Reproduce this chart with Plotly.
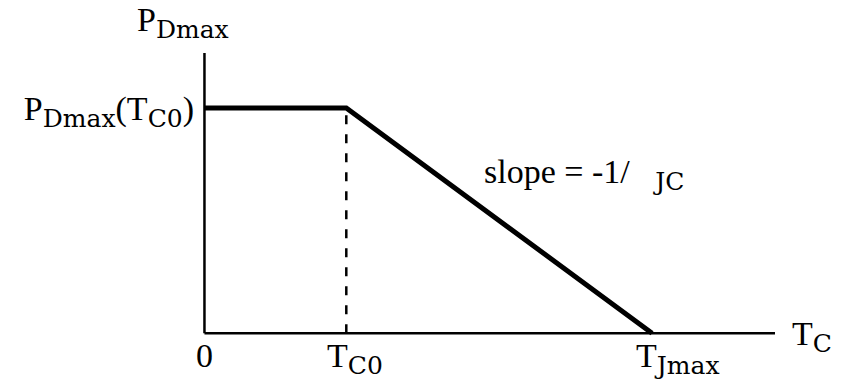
import plotly.graph_objects as go

# Derating curve: maximum power dissipation vs. case temperature
T_C0 = 45.0          # case temperature where derating starts
T_JMAX = 142.0       # maximum junction temperature
P_DMAX_TC0 = 100.0   # rated dissipation up to T_C0
T_AXIS_END = 181.0   # extent of the drawn temperature axis
P_AXIS_END = 124.4   # extent of the drawn power axis

curve_t = [0.0, T_C0, T_JMAX]
curve_p = [P_DMAX_TC0, P_DMAX_TC0, 0.0]


def sub(s):
    """Subscript set in a wider serif face."""
    return ("<sub><span style='font-family:DejaVu Serif;font-size:25px'>"
            + s + "</span></sub>")


# Temperature marks under the axis: value, text, horizontal anchor
x_label_vals = [0.0, T_C0, T_JMAX]
x_label_text = ["0", "T" + sub("C0"), "T" + sub("Jmax")]
x_label_anchor = ["center", "left", "left"]
x_label_shift = [0, -21, -18]

y_tick_vals = [P_DMAX_TC0]
y_tick_text = ["P" + sub("Dmax") + "(T" + sub("C0") + ")"]

FONT = dict(family="Liberation Serif", size=34, color="black")

# Figure frame (pixels) and a small data pad so thick lines are not clipped
W, H = 841, 383
ORIGIN_X, ORIGIN_Y = 204, 333      # where (0, 0) lands
END_X, END_Y = 775, 53             # where the axis ends land
PAD = 3.0
kx = (END_X - ORIGIN_X) / T_AXIS_END
ky = (ORIGIN_Y - END_Y) / P_AXIS_END

fig = go.Figure()

# Axes drawn as plain lines from the origin
fig.add_trace(go.Scatter(x=[0, 0], y=[0, P_AXIS_END], mode="lines",
                         line=dict(color="black", width=2.5), hoverinfo="skip"))
fig.add_trace(go.Scatter(x=[0, T_AXIS_END], y=[0, 0], mode="lines",
                         line=dict(color="black", width=2.5), hoverinfo="skip"))

# Dashed marker at T_C0
fig.add_trace(go.Scatter(x=[T_C0, T_C0], y=[0, P_DMAX_TC0], mode="lines",
                         line=dict(color="black", width=2.5, dash="9px,10px"),
                         hoverinfo="skip"))

# Derating curve
fig.add_trace(go.Scatter(x=curve_t, y=curve_p, mode="lines",
                         line=dict(color="black", width=5), hoverinfo="skip"))

annotations = [
    dict(x=0, y=P_AXIS_END, xref="x", yref="y", text="P" + sub("Dmax"),
         showarrow=False, xanchor="center", yanchor="bottom",
         xshift=-21, yshift=7, font=FONT),
    dict(x=T_AXIS_END, y=0, xref="x", yref="y", text="T" + sub("C"),
         showarrow=False, xanchor="left", yanchor="middle",
         xshift=15, yshift=-3, font=FONT),
    dict(x=88, y=70.5, xref="x", yref="y",
         text="slope = -1/&nbsp;&nbsp;&nbsp;" + sub("JC"),
         showarrow=False, xanchor="left", yanchor="middle", font=FONT),
]
for xv, txt, anc, sh in zip(x_label_vals, x_label_text, x_label_anchor,
                            x_label_shift):
    annotations.append(dict(x=xv, y=0, xref="x", yref="y", text=txt,
                            showarrow=False, xanchor=anc, yanchor="top",
                            xshift=sh, yshift=-2, font=FONT))

fig.update_layout(
    width=W, height=H,
    margin=dict(l=ORIGIN_X - PAD * kx, r=W - END_X,
                t=END_Y, b=H - ORIGIN_Y - PAD * ky, autoexpand=False),
    paper_bgcolor="white", plot_bgcolor="white",
    showlegend=False,
    font=FONT,
    xaxis=dict(range=[-PAD, T_AXIS_END], showgrid=False, zeroline=False,
               showline=False, ticks="", showticklabels=False,
               automargin=False, fixedrange=True),
    yaxis=dict(range=[-PAD, P_AXIS_END], showgrid=False, zeroline=False,
               showline=False, ticks="", tickvals=y_tick_vals,
               ticktext=y_tick_text, tickfont=FONT, automargin=False,
               fixedrange=True),
    annotations=annotations,
)

fig.write_html("out.html")
